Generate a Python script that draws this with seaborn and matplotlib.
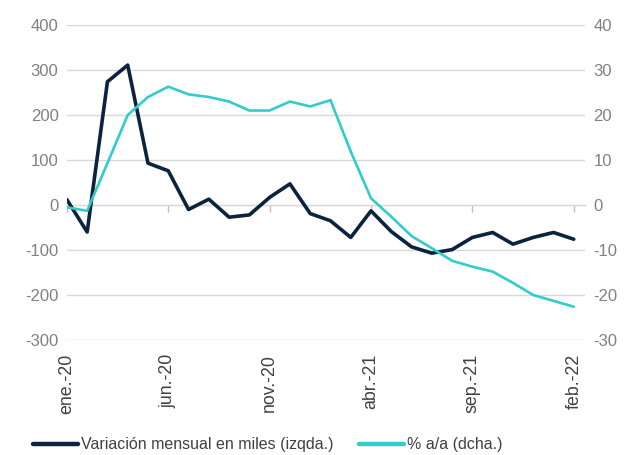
import pandas as pd
import seaborn as sns
import matplotlib.pyplot as plt
from matplotlib.lines import Line2D

# monthly data, ene.-20 .. feb.-22
months = ["ene.", "feb.", "mar.", "abr.", "may.", "jun.",
          "jul.", "ago.", "sep.", "oct.", "nov.", "dic."]
labels = [f"{months[i % 12]}-{20 + i // 12}" for i in range(26)]

variacion = [12, -60, 274, 311, 93, 76, -10, 13, -27, -22, 17, 47, -19,
             -35, -72, -13, -59, -93, -107, -99, -72, -61, -87, -72, -61, -76]
pct_aa = [-0.5, -1.3, 9.3, 20.0, 24.0, 26.3, 24.6, 24.0, 23.0, 21.0, 21.0, 23.0, 21.9,
          23.3, 11.9, 1.5, -2.6, -6.9, -9.6, -12.4, -13.7, -14.8, -17.3, -20.0, -21.3, -22.6]

df = pd.DataFrame({"idx": range(26), "mes": labels,
                   "variacion": variacion, "pct": pct_aa})

navy = "#0c2340"
cyan = "#33cccc"
gray = "#808080"

sns.set_style("white")
plt.rcParams["font.family"] = ["Liberation Sans", "DejaVu Sans"]
plt.rcParams["axes.unicode_minus"] = False

fig, ax = plt.subplots(figsize=(6.31, 4.55), dpi=100)
fig.subplots_adjust(left=0.106, right=0.927, top=0.945, bottom=0.2527)
ax2 = ax.twinx()

sns.lineplot(data=df, x="idx", y="variacion", ax=ax, color=navy, lw=2.6, legend=False)
sns.lineplot(data=df, x="idx", y="pct", ax=ax2, color=cyan, lw=1.9, legend=False)

ax.set_ylim(-300, 400)
ax2.set_ylim(-30, 40)
ax.set_yticks(range(-300, 401, 100))
ax2.set_yticks(range(-30, 41, 10))
ax.set_xlim(0, 25.55)

ax.yaxis.grid(True, color="#d9d9d9", lw=1)
ax.set_axisbelow(True)
for a in (ax, ax2):
    for s in a.spines.values():
        s.set_visible(False)
    a.set_xlabel("")
    a.set_ylabel("")
    a.tick_params(axis="y", length=0, labelsize=12, labelcolor=gray, pad=6)

ticks = list(range(0, 26, 5))
ax.set_xticks(ticks)
ax.set_xticklabels([labels[i] for i in ticks], rotation=90, fontsize=12.8, color="#404040")
ax.tick_params(axis="x", length=0, pad=10)

# zero line with small tick marks (Excel style category axis)
zero = ax.secondary_xaxis(3 / 7)
zero.set_xticks(ticks)
zero.set_xticklabels([])
zero.tick_params(axis="x", direction="out", length=5, color="#bfbfbf", width=1)
zero.spines["bottom"].set_color("#bfbfbf")
zero.spines["top"].set_visible(False)

handles = [Line2D([], [], color=navy, lw=3.2),
           Line2D([], [], color=cyan, lw=3.2)]
fig.legend(handles, ["Variación mensual en miles (izqda.)", "% a/a (dcha.)"],
           loc="lower center", bbox_to_anchor=(0.425, -0.026), ncol=2, frameon=False,
           fontsize=11.5, handlelength=2.8, handletextpad=0.2, columnspacing=1.6,
           labelcolor="#404040")

plt.savefig("out.png", dpi=100)
